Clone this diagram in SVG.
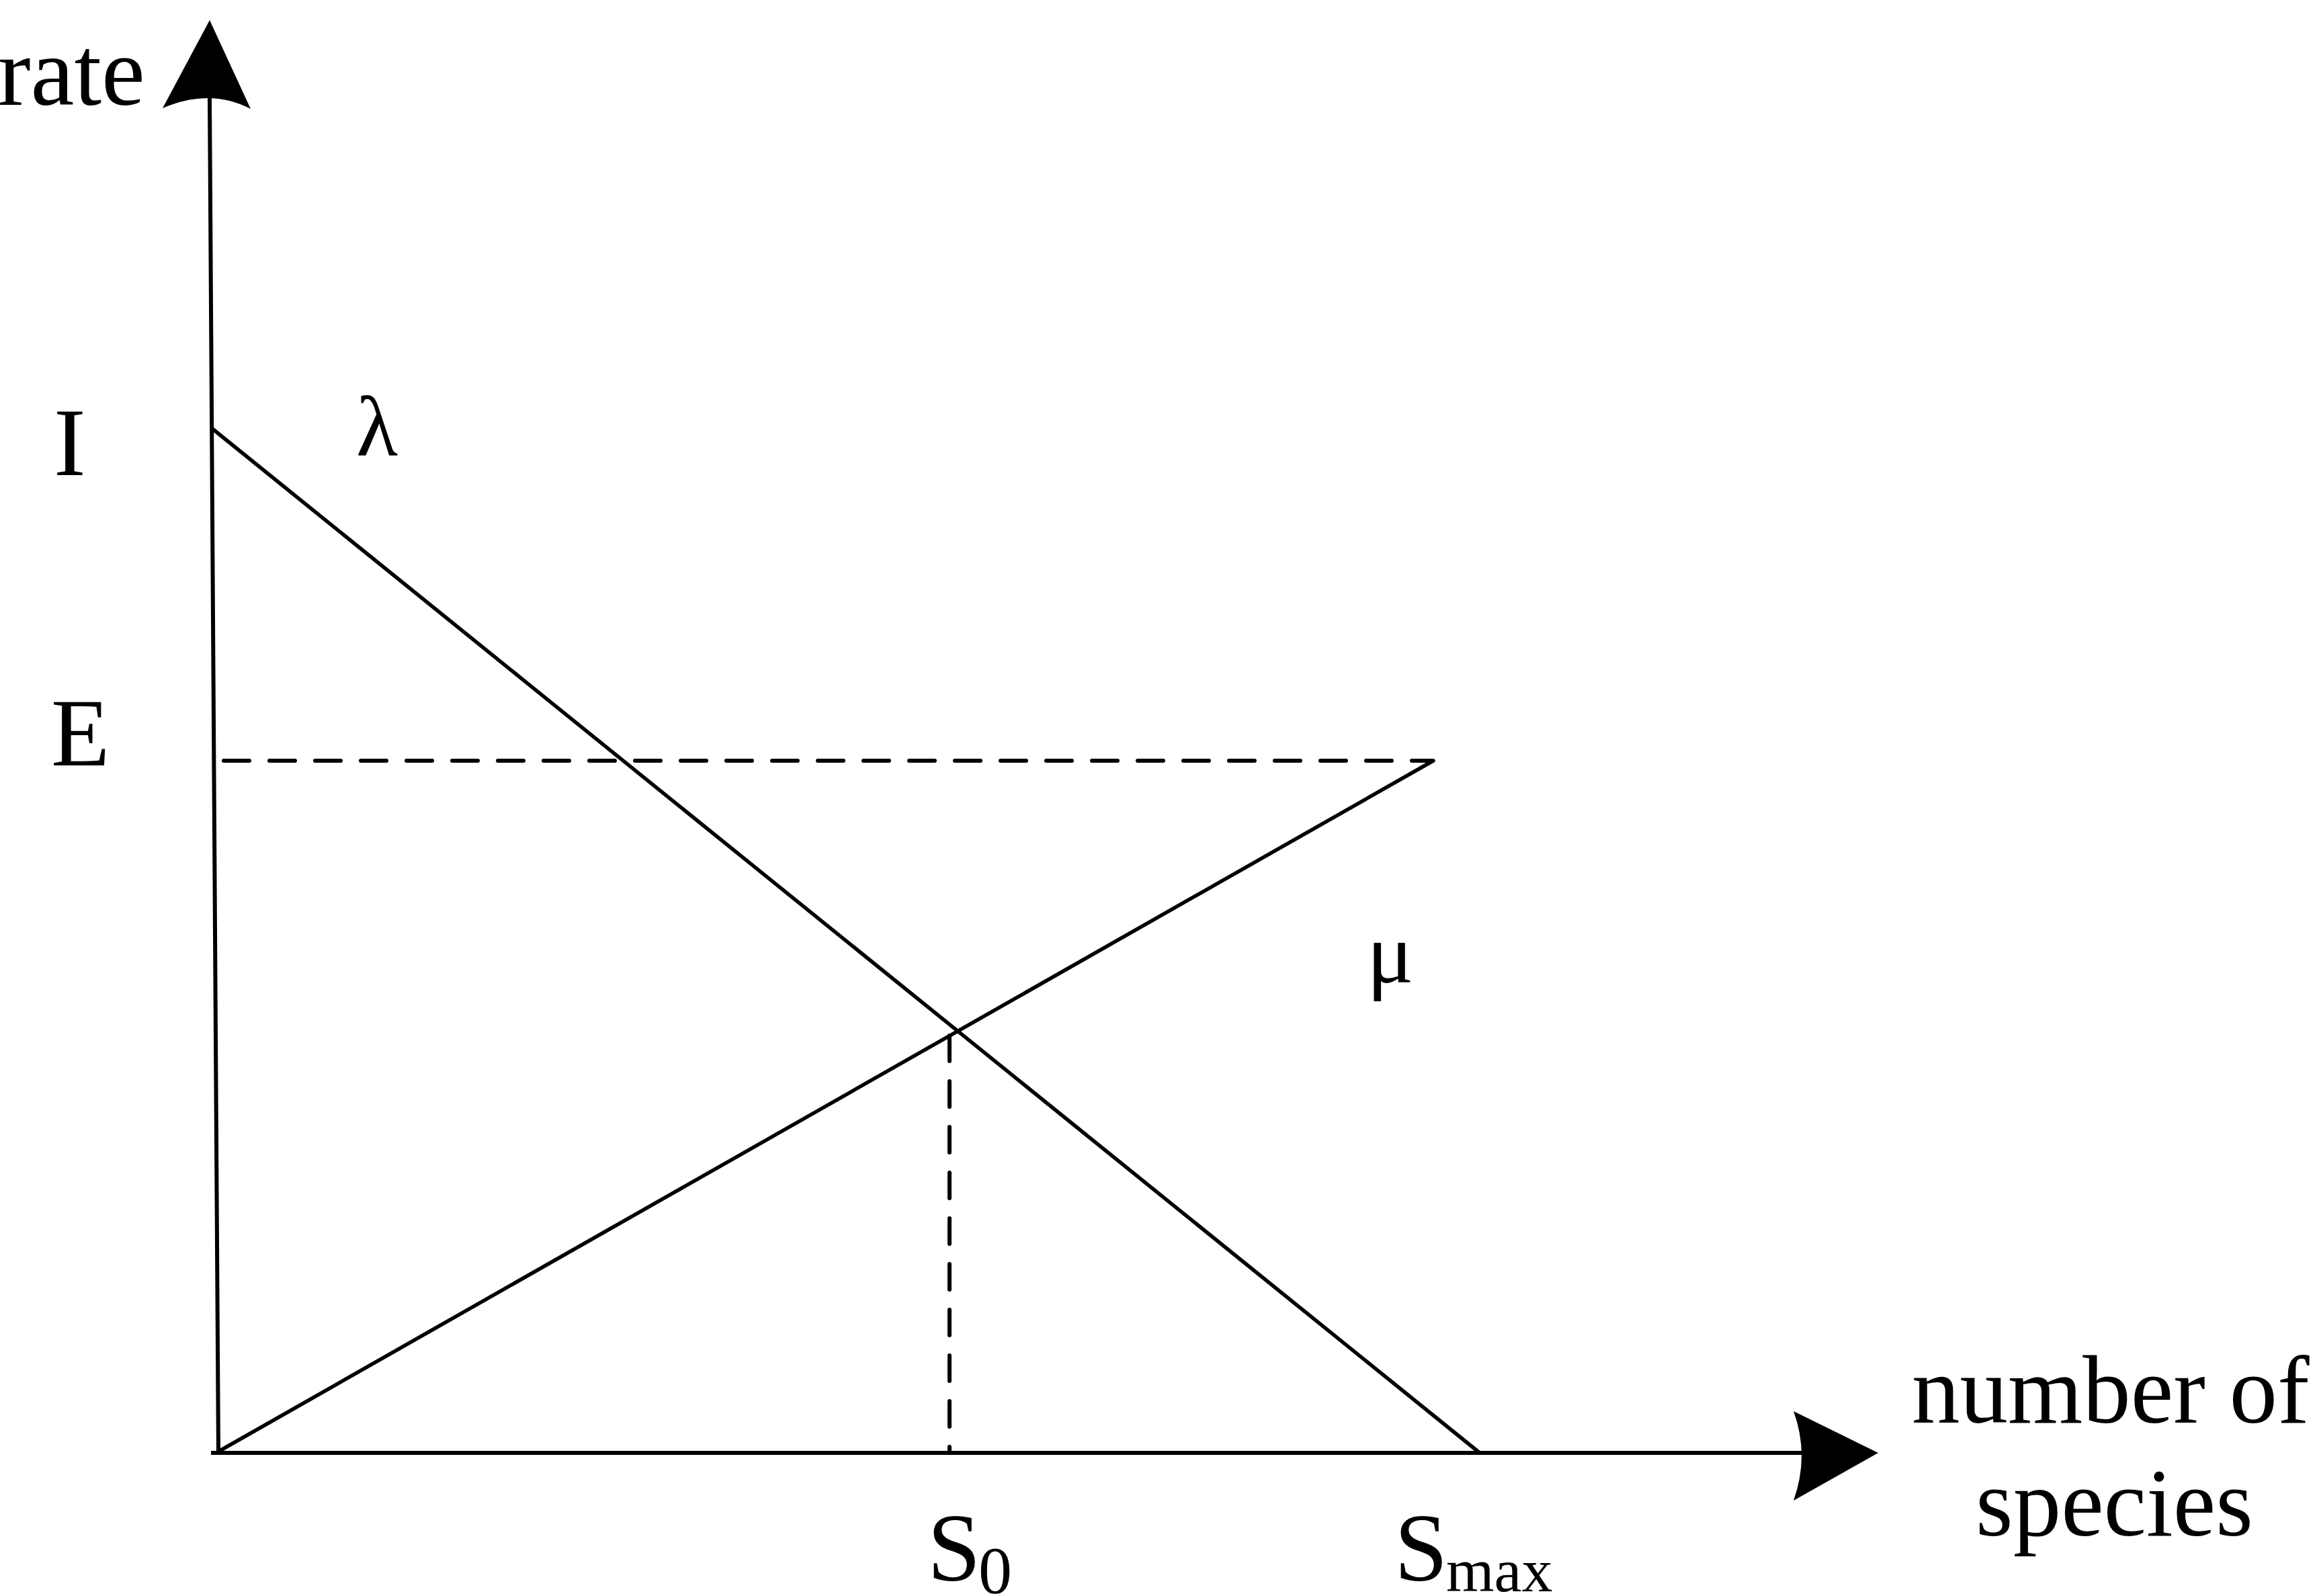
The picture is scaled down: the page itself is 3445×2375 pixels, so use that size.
<svg xmlns="http://www.w3.org/2000/svg" width="3445" height="2375" viewBox="0 0 3445 2375">
<style>
.ln{stroke:#000;stroke-width:5.5;fill:none;stroke-linecap:round}
.ax{stroke:#000;stroke-width:6;fill:none}
.ds{stroke:#000;stroke-width:6;fill:none;stroke-linecap:round;stroke-dasharray:38 30}
.hd{fill:#000;stroke:none}
text{font-family:"Liberation Serif","Times New Roman",serif;fill:#000}
.t{font-size:143px}
</style>
<rect width="3445" height="2375" fill="#fff"/>
<g id="connectors">
<line class="ax" x1="312" y1="146" x2="325" y2="2162"/>
<line class="ax" x1="314" y1="2162" x2="2683" y2="2162"/>
<path class="hd" d="M312,30 L373,162 Q312,130.5 242,161 Z"/>
<path class="hd" d="M2795,2162 L2669,2233 Q2693,2166 2669,2100 Z"/>
<line class="ln" x1="316" y1="638" x2="2202" y2="2162"/>
<line class="ln" x1="325" y1="2160" x2="2133" y2="1132"/>
<line class="ds" x1="333" y1="1132" x2="2130" y2="1132"/>
<line class="ds" x1="1413" y1="1541" x2="1413" y2="2160"/>
</g>
<g id="label-rate"><text class="t" x="-3" y="156" style="font-size:146px">rate</text></g>
<g id="label-I"><text class="t" x="80" y="707">I</text></g>
<g id="label-E"><text class="t" x="76" y="1139">E</text></g>
<g id="label-lambda"><text x="530" y="677" style="font-size:128px">λ</text></g>
<g id="label-mu"><text x="2034" y="1462" style="font-size:130px">μ</text></g>
<g id="label-S0"><text class="t" x="1380" y="2352">S</text><text x="1456" y="2370" style="font-size:100px">0</text></g>
<g id="label-Smax"><text class="t" x="2075" y="2352">S</text><text x="2152" y="2368" style="font-size:92px">max</text></g>
<g id="label-x"><text class="t" x="2845" y="2117">number of</text><text class="t" x="2940" y="2285">species</text></g>
</svg>
